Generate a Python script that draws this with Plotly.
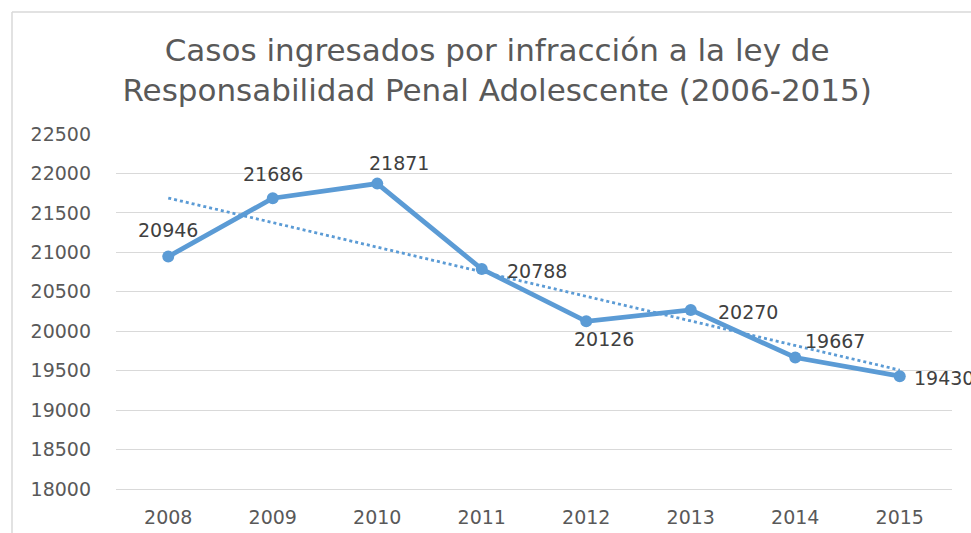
import numpy as np
import plotly.graph_objects as go

years = ["2008", "2009", "2010", "2011", "2012", "2013", "2014", "2015"]
cases = [20946, 21686, 21871, 20788, 20126, 20270, 19667, 19430]
y_ticks = [18000, 18500, 19000, 19500, 20000, 20500, 21000, 21500, 22000, 22500]

title_text = "Casos ingresados por infracción a la ley de<br>Responsabilidad Penal Adolescente (2006-2015)"

BLUE = "#5B9BD5"
FONT = "DejaVu Sans"
GRID = "#D9D9D9"

# linear trendline (least squares on category index)
idx = np.arange(len(cases))
slope, intercept = np.polyfit(idx, cases, 1)
trend = slope * idx + intercept

fig = go.Figure()
fig.add_trace(go.Scatter(
    x=idx, y=trend, mode="lines",
    line=dict(color=BLUE, width=2.8, dash="dot"),
    hoverinfo="skip", showlegend=False,
))
fig.add_trace(go.Scatter(
    x=idx, y=cases, mode="lines+markers",
    line=dict(color=BLUE, width=4.8),
    marker=dict(color=BLUE, size=12),
    showlegend=False,
))

# label placement: (xanchor, yanchor, xshift, yshift)
label_style = [
    ("center", "middle", 0, 27),
    ("center", "middle", 0, 24),
    ("center", "middle", 22, 21),
    ("left", "middle", 23, -2),
    ("center", "middle", 18, -18),
    ("left", "middle", 25, -2),
    ("left", "middle", 8, 16),
    ("left", "middle", 12, -2),
]
for i, v, (xa, ya, xs, ys) in zip(idx, cases, label_style):
    fig.add_annotation(
        x=int(i), y=v, text=str(v), showarrow=False,
        xanchor=xa, yanchor=ya, xshift=xs, yshift=ys,
        font=dict(family=FONT, size=19, color="#404040"),
    )

fig.update_layout(
    width=971, height=533,
    margin=dict(l=116, r=19, t=134, b=44),
    paper_bgcolor="white", plot_bgcolor="white",
    title=dict(
        text=title_text,
        x=0.512, xref="container", xanchor="center",
        y=0.8856, yref="container", yanchor="top",
        font=dict(family=FONT, size=31, color="#595959"),
    ),
    shapes=[
        dict(type="line", xref="paper", yref="paper",
             x0=-0.1244, x1=-0.1244, y0=-0.1239, y1=1.3437,
             line=dict(color=GRID, width=1.5), layer="below"),
        dict(type="line", xref="paper", yref="paper",
             x0=-0.1244, x1=1.0227, y0=1.3437, y1=1.3437,
             line=dict(color=GRID, width=1.5), layer="below"),
    ],
)
fig.update_xaxes(
    range=[-0.5, 7.5], tickvals=list(idx), ticktext=years,
    showgrid=False, zeroline=False, ticks="",
    showline=True, linecolor=GRID, linewidth=1.2,
    tickfont=dict(family=FONT, size=19, color="#595959"),
    ticklabelstandoff=11, automargin=False,
)
fig.update_yaxes(
    range=[18000, 22500], tickvals=y_ticks, tickformat="d",
    showgrid=True, gridcolor=GRID, gridwidth=1.2,
    zeroline=False, showline=False, ticks="",
    tickfont=dict(family=FONT, size=19, color="#595959"),
    ticklabelstandoff=24, automargin=False,
)

fig.write_html(
    "out.html",
    config={"displayModeBar": False},
    post_script="document.body.style.margin='0';document.body.style.overflow='hidden';",
)
